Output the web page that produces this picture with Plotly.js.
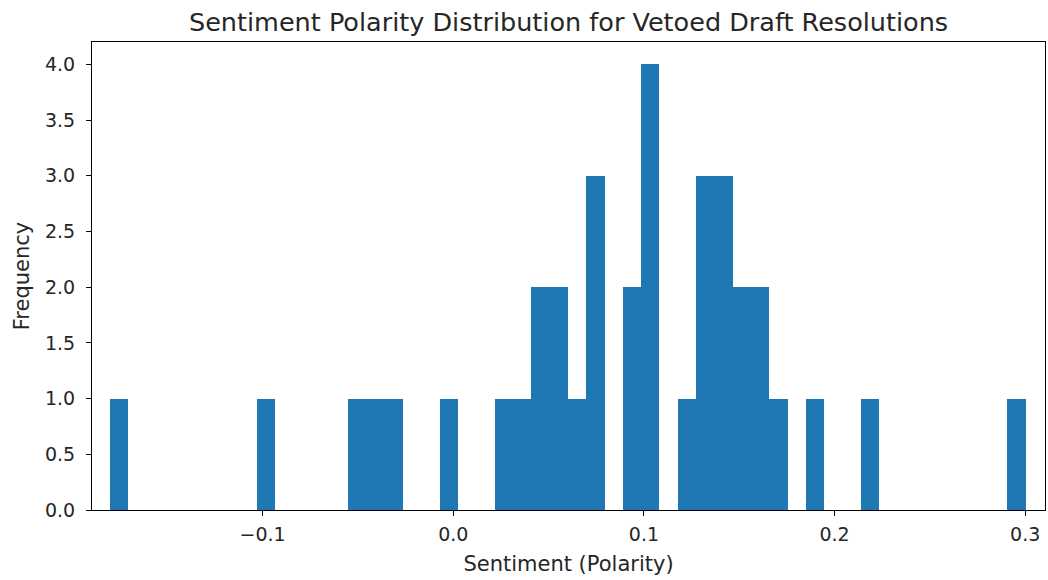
<!DOCTYPE html>
<html>
<head>
<meta charset="utf-8">
<script src="https://cdn.plot.ly/plotly-3.0.1.min.js"></script>
<style>html,body{margin:0;padding:0;background:#fff;}#chart{width:1048px;height:580px;}</style>
</head>
<body>
<div id="chart"></div>
<script>
// Histogram: 50 equal bins from binStart with width binWidth
const binStart = -0.18;
const binWidth = 0.009606;
const counts = [
  1, 0, 0, 0, 0, 0, 0, 0, 1, 0,
  0, 0, 0, 1, 1, 1, 0, 0, 1, 0,
  0, 1, 1, 2, 2, 1, 3, 0, 2, 4,
  0, 1, 3, 3, 2, 2, 1, 0, 1, 0,
  0, 1, 0, 0, 0, 0, 0, 0, 0, 1
];
const xTickVals = [-0.1, 0.0, 0.1, 0.2, 0.3];
const yTickVals = [0, 0.5, 1, 1.5, 2, 2.5, 3, 3.5, 4];

const centers = counts.map((c, i) => binStart + (i + 0.5) * binWidth);

const trace = {
  type: 'bar',
  x: centers,
  y: counts,
  width: counts.map(() => binWidth),
  marker: {color: '#1f77b4', line: {width: 0}},
  hoverinfo: 'x+y'
};

const tickFont = {family: 'DejaVu Sans, sans-serif', color: '#262626', size: 19};
const labelFont = {family: 'DejaVu Sans, sans-serif', color: '#262626', size: 21};

const layout = {
  width: 1048, height: 580,
  margin: {l: 92, r: 3, t: 42, b: 70},
  paper_bgcolor: '#fff', plot_bgcolor: '#fff',
  font: tickFont,
  showlegend: false,
  bargap: 0,
  title: {
    text: 'Sentiment Polarity Distribution for Vetoed Draft Resolutions',
    font: {family: 'DejaVu Sans, sans-serif', size: 25.5, color: '#262626'},
    x: 0.5425, xanchor: 'center', y: 0.962, yanchor: 'middle'
  },
  xaxis: {
    range: [-0.1895, 0.3104],
    tickvals: xTickVals,
    tickformat: '.1f',
    ticks: 'outside', ticklen: 5, tickwidth: 1, tickcolor: '#000',
    ticklabelstandoff: 2,
    showline: true, linecolor: '#000', linewidth: 1, mirror: true,
    showgrid: false, zeroline: false,
    tickfont: tickFont,
    title: {text: 'Sentiment (Polarity)', font: labelFont, standoff: 12}
  },
  yaxis: {
    range: [0, 4.2],
    tickvals: yTickVals,
    tickformat: '.1f',
    ticks: 'outside', ticklen: 5, tickwidth: 1, tickcolor: '#000',
    ticklabelstandoff: 7,
    showline: true, linecolor: '#000', linewidth: 1, mirror: true,
    showgrid: false, zeroline: false,
    tickfont: tickFont,
    title: {text: 'Frequency', font: labelFont, standoff: 9}
  }
};

Plotly.newPlot('chart', [trace], layout, {displayModeBar: false, staticPlot: true});
</script>
</body>
</html>
